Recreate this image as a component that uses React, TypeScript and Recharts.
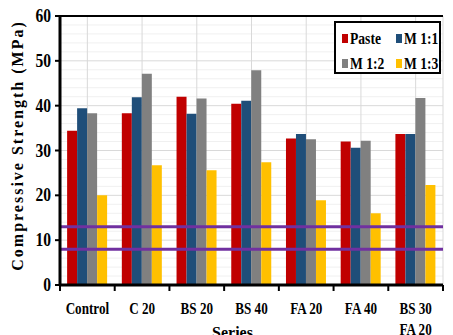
import React from 'react';
import { BarChart, Bar, XAxis, YAxis, CartesianGrid, ReferenceLine, Label } from 'recharts';

const categories = ['Control', 'C 20', 'BS 20', 'BS 40', 'FA 20', 'FA 40', 'BS 30\nFA 20'];
const paste = [34.4, 38.3, 42.0, 40.4, 32.7, 32.0, 33.7];
const m11 = [39.4, 41.9, 38.2, 41.1, 33.7, 30.6, 33.7];
const m12 = [38.3, 47.1, 41.6, 47.9, 32.5, 32.2, 41.7];
const m13 = [20.0, 26.7, 25.6, 27.4, 18.9, 16.0, 22.3];
const yTicks = [0, 10, 20, 30, 40, 50, 60];
const minorTicks = [2, 4, 6, 8, 12, 14, 16, 18, 22, 24, 26, 28, 32, 34, 36, 38, 42, 44, 46, 48, 52, 54, 56, 58];
const limitLines = [13, 8];

const data = categories.map((name, i) => ({
  name,
  paste: paste[i],
  m11: m11[i],
  m12: m12[i],
  m13: m13[i],
}));

const FONT = "'Liberation Serif', 'Times New Roman', Times, serif";

// narrow bold serif like the squeezed original, plus tick marks on the category edges
const XTick = ({ x, y, payload, index, visibleTicksCount }: any) => {
  const lines = String(payload.value).split('\n');
  const half = payload.offset || 27.4;
  const last = index === visibleTicksCount - 1;
  return (
    <g>
      <line x1={x - half} x2={x - half} y1={y} y2={y + 6} stroke="#000" strokeWidth={2} />
      {last && <line x1={x + half} x2={x + half} y1={y} y2={y + 6} stroke="#000" strokeWidth={2} />}
      <g transform={`translate(${x},${y + 29}) scale(0.82,1)`}>
        <text x={0} y={0} textAnchor="middle" fontFamily={FONT} fontWeight="bold" fontSize={16} fill="#000">
          {lines.map((l, i) => (
            <tspan key={i} x={0} dy={i === 0 ? 0 : 21}>{l}</tspan>
          ))}
        </text>
      </g>
    </g>
  );
};

const YTick = ({ x, y, payload }: any) => (
  <g transform={`translate(${x - 2},${y + 6}) scale(0.82,1)`}>
    <text x={0} y={0} textAnchor="end" fontFamily={FONT} fontWeight="bold" fontSize={19} fill="#000">
      {payload.value}
    </text>
  </g>
);

const legendItems = [
  { label: 'Paste', color: '#C00000' },
  { label: 'M 1:1', color: '#1F4E79' },
  { label: 'M 1:2', color: '#808080' },
  { label: 'M 1:3', color: '#FFC000' },
];

const LegendBox = () => (
  <div
    style={{
      position: 'absolute',
      left: 334,
      top: 21,
      border: '2px solid #000',
      background: '#fff',
      width: 107,
      height: 53,
      boxSizing: 'border-box',
      display: 'grid',
      gridTemplateColumns: '54px 50px',
      padding: '6px 0 0 6px',
      rowGap: 7,
      fontFamily: FONT,
      fontWeight: 'bold',
      fontSize: 16,
      color: '#000',
    }}
  >
    {legendItems.map((it) => (
      <div key={it.label} style={{ display: 'flex', alignItems: 'center', lineHeight: '17px', whiteSpace: 'nowrap' }}>
        <span style={{ width: 6, height: 9, background: it.color, marginRight: 2, display: 'inline-block', flex: 'none' }} />
        <span style={{ display: 'inline-block', transform: 'scaleX(0.85)', transformOrigin: 'left center' }}>{it.label}</span>
      </div>
    ))}
  </div>
);

const App: React.FC = () => {
  return (
    <div style={{ position: 'absolute', left: 0, top: 0, width: 453, height: 335, background: '#fff' }}>
      <BarChart
        width={453}
        height={335}
        data={data}
        margin={{ top: 16, right: 10, left: 0, bottom: 0 }}
        barCategoryGap="13%"
        barGap={0}
      >
        <CartesianGrid
          horizontalPoints={minorTicks.map((v) => 16 + 269 * (1 - v / 60))}
          vertical={false}
          stroke="#f0f0f0"
          strokeWidth={1}
        />
        <CartesianGrid stroke="#d9d9d9" strokeWidth={1} />
        <XAxis
          dataKey="name"
          interval={0}
          height={50}
          tickSize={0}
          tickMargin={0}
          tick={<XTick />}
          tickLine={false}
          axisLine={{ stroke: '#000', strokeWidth: 3 }}
        >
          <Label value="Series" position="insideBottom" offset={-3} dx={-19} style={{ fontFamily: FONT, fontWeight: 'bold', fontSize: 16, fill: '#000' }} />
        </XAxis>
        <YAxis
          domain={[0, 60]}
          ticks={yTicks}
          width={60}
          tickSize={5}
          tick={<YTick />}
          tickLine={{ stroke: '#000', strokeWidth: 2 }}
          axisLine={{ stroke: '#000', strokeWidth: 3 }}
        >
          <Label
            value="Compressive Strength (MPa)"
            angle={-90}
            position="insideLeft"
            dx={12}
            dy={-5}
            style={{ textAnchor: 'middle', fontFamily: FONT, fontWeight: 'bold', fontSize: 16, letterSpacing: 2, fill: '#000' }}
          />
        </YAxis>
        <YAxis
          yAxisId="frame"
          orientation="right"
          domain={[0, 60]}
          width={0}
          tick={false}
          tickLine={false}
          axisLine={{ stroke: '#000', strokeWidth: 2 }}
        />
        <ReferenceLine y={60} stroke="#000" strokeWidth={2} />
        <Bar dataKey="paste" name="Paste" fill="#C00000" isAnimationActive={false} />
        <Bar dataKey="m11" name="M 1:1" fill="#1F4E79" isAnimationActive={false} />
        <Bar dataKey="m12" name="M 1:2" fill="#808080" isAnimationActive={false} />
        <Bar dataKey="m13" name="M 1:3" fill="#FFC000" isAnimationActive={false} />
        {limitLines.map((v) => (
          <ReferenceLine key={v} y={v} stroke="#7030A0" strokeWidth={3} />
        ))}
      </BarChart>
      <LegendBox />
    </div>
  );
};

export default App;
